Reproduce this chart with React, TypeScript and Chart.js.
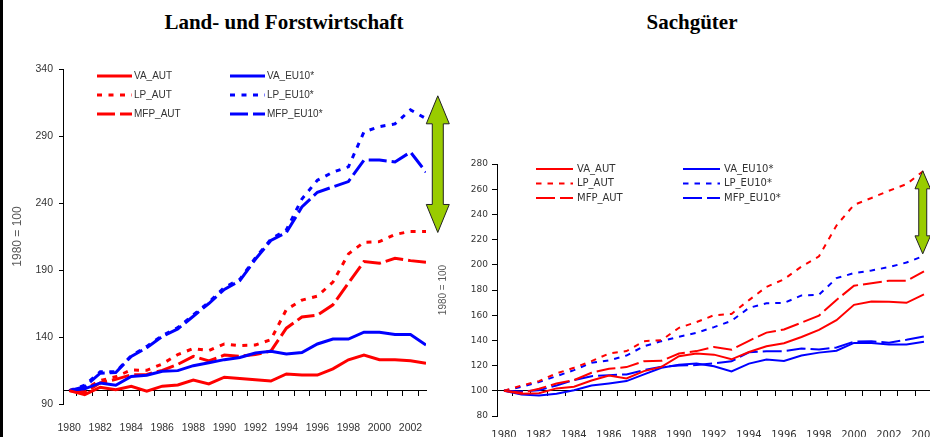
import React, { useEffect, useRef } from 'react';
import { Chart, registerables } from 'chart.js';

Chart.register(...registerables);

// ---------------- DATA ----------------
const yearsLand = [1980, 1981, 1982, 1983, 1984, 1985, 1986, 1987, 1988, 1989, 1990, 1991, 1992, 1993, 1994, 1995, 1996, 1997, 1998, 1999, 2000, 2001, 2002, 2003];
const yearsMan = [1980, 1981, 1982, 1983, 1984, 1985, 1986, 1987, 1988, 1989, 1990, 1991, 1992, 1993, 1994, 1995, 1996, 1997, 1998, 1999, 2000, 2001, 2002, 2003, 2004];

const tickYearsLand = [1980, 1982, 1984, 1986, 1988, 1990, 1992, 1994, 1996, 1998, 2000, 2002];
const tickYearsMan = [1980, 1982, 1984, 1986, 1988, 1990, 1992, 1994, 1996, 1998, 2000, 2002, 2004];

const yTicksLand = [90, 140, 190, 240, 290, 340];
const yTicksMan = [80, 100, 120, 140, 160, 180, 200, 220, 240, 260, 280];

const seriesNames = ['VA_AUT', 'VA_EU10*', 'LP_AUT', 'LP_EU10*', 'MFP_AUT', 'MFP_EU10*'];

// Land- und Forstwirtschaft (1980 = 100)
const landVA_AUT = [100, 97, 102.5, 100.7, 103.2, 99.6, 103.3, 104.2, 107.8, 105, 110, 109, 108.1, 107.1, 112.4, 111.6, 111.6, 116.2, 123, 126.6, 123, 123, 122.2, 120.4];
const landVA_EU = [100, 101.3, 105.7, 104, 110.6, 111.4, 114.4, 114.9, 118.6, 120.8, 123.1, 124.7, 128.1, 129.3, 127.4, 128.4, 134.8, 138.5, 138.5, 143.6, 143.6, 141.8, 141.8, 134];
const landLP_AUT = [100, 101, 107.5, 110.3, 115.4, 115.1, 119.9, 126.9, 131.4, 129.8, 134.8, 133.6, 134, 138, 160.5, 167.5, 170.5, 181, 202, 210.7, 211.2, 216.5, 218.8, 218.8];
const landLP_EU = [100, 104, 114, 114, 126, 133, 141, 147, 156.5, 166, 177, 183, 199, 213, 220, 243, 257, 263, 267, 293, 297, 299, 309.5, 303];
const landMFP_AUT = [100, 98.5, 105.8, 108.4, 111.8, 112.1, 115.1, 119.6, 125.6, 122.1, 126.5, 125.6, 126.9, 129.5, 146.6, 154.9, 156.3, 164, 180.2, 196.3, 195, 198.7, 197, 195.8];
const landMFP_EU = [100, 103, 113, 113.5, 125.5, 132, 140.5, 146, 155.5, 165, 175.5, 182, 198, 212, 218, 237, 248, 252, 256, 272, 272, 270.6, 278, 263];

// Sachgüter (1980 = 100)
const manVA_AUT = [100, 97.6, 98.1, 101.9, 103.2, 108.2, 112.2, 109.8, 115.6, 119, 127.5, 129.6, 128.7, 125, 130.8, 135.3, 137.7, 142.7, 148.3, 156, 168.2, 170.8, 170.6, 169.8, 176.6];
const manVA_EU = [100, 97.1, 96.3, 97.6, 100.5, 104.2, 105.8, 107.7, 113, 118.3, 120.6, 121.7, 119.5, 115.3, 121.6, 124.8, 123.7, 128, 130.3, 131.8, 138, 138, 136.8, 136.8, 138.9];
const manLP_AUT = [100, 104.2, 107.7, 113.8, 118.3, 123.5, 129.6, 131.5, 139.4, 140.2, 150, 154.5, 160, 161, 172, 182.5, 188.5, 198.6, 206.7, 231.2, 247.6, 253, 258.8, 264, 274.8];
const manLP_EU = [100, 103.2, 106.9, 111.6, 116.4, 122.2, 124.1, 128, 135.4, 139.4, 142.9, 146, 150.5, 155.5, 165.8, 169.5, 169.7, 175.7, 176.2, 189.4, 193.4, 195.5, 198.2, 201.8, 207.1];
const manMFP_AUT = [100, 98.4, 101.6, 105.8, 108.5, 114.3, 117.5, 118.8, 123.5, 123.8, 129.6, 131.5, 134.8, 132.6, 139.7, 146.2, 148.7, 154.1, 159.7, 172.1, 183.4, 185.4, 187.3, 187.3, 194.7];
const manMFP_EU = [100, 99.5, 100.5, 104.2, 108.5, 111.6, 112.4, 113, 116.4, 119, 120.1, 120.4, 121.8, 123.4, 130.6, 131.4, 131.5, 133.5, 132.7, 134.4, 139, 139.3, 138.2, 140.5, 143.2];

// gap arrows (year position, lower and upper value)
const gapLand = { year: 2003.76, low: 218, high: 320 };
const gapMan = { year: 2003.93, low: 208.7, high: 274.6 };

// ---------------- STYLE ----------------
const NARROW = '"Liberation Sans", Arial, sans-serif';
const WIDE = '"DejaVu Sans", Verdana, sans-serif';
const SERIES_COLORS = ['#FF0000', '#0000FF', '#FF0000', '#0000FF', '#FF0000', '#0000FF'];

const panelLegend = {
  id: 'panelLegend',
  afterDatasetsDraw(chart: any, _args: any, opts: any) {
    const { ctx, chartArea } = chart;
    ctx.save();
    ctx.font = opts.font;
    ctx.fillStyle = opts.color;
    ctx.textBaseline = 'middle';
    ctx.textAlign = 'left';
    chart.data.datasets.forEach((d: any, i: number) => {
      const col = i % 2;
      const row = Math.floor(i / 2);
      const x = chartArea.left + opts.x + col * opts.colGap;
      const y = chartArea.top + opts.y + row * opts.rowGap;
      ctx.beginPath();
      ctx.setLineDash(d.borderDash || []);
      ctx.lineWidth = d.borderWidth;
      ctx.strokeStyle = d.borderColor;
      ctx.moveTo(x, y);
      ctx.lineTo(x + opts.lineLen, y);
      ctx.stroke();
      ctx.setLineDash([]);
      ctx.fillText(d.label, x + opts.lineLen + opts.textGap, y);
    });
    ctx.restore();
  },
};

const gapArrow = {
  id: 'gapArrow',
  afterDatasetsDraw(chart: any, _args: any, opts: any) {
    const { ctx } = chart;
    const xs = chart.scales.x;
    const ys = chart.scales.y;
    const cx = xs.getPixelForValue(opts.year);
    const yTop = ys.getPixelForValue(opts.high);
    const yBot = ys.getPixelForValue(opts.low);
    const hw = opts.headWidth / 2;
    const sw = opts.shaftWidth / 2;
    const hl = opts.headLength;
    ctx.save();
    ctx.beginPath();
    ctx.moveTo(cx, yTop);
    ctx.lineTo(cx + hw, yTop + hl);
    ctx.lineTo(cx + sw, yTop + hl);
    ctx.lineTo(cx + sw, yBot - hl);
    ctx.lineTo(cx + hw, yBot - hl);
    ctx.lineTo(cx, yBot);
    ctx.lineTo(cx - hw, yBot - hl);
    ctx.lineTo(cx - sw, yBot - hl);
    ctx.lineTo(cx - sw, yTop + hl);
    ctx.lineTo(cx - hw, yTop + hl);
    ctx.closePath();
    ctx.fillStyle = '#99CC00';
    ctx.fill();
    ctx.lineWidth = 1;
    ctx.strokeStyle = '#222';
    ctx.setLineDash([]);
    ctx.stroke();
    ctx.restore();
  },
};

type PanelStyle = {
  width: number;
  lineWidth: number;
  dot: number[];
  dash: number[];
  xMin: number;
  xMax: number;
  padding: { top: number; right: number; left: number; bottom: number };
  yWidth: number;
  xHeight: number;
  yFont: any;
  xFont: any;
  xPad: number;
  yTickLen: number;
  yPad: number;
  titleFont: any;
  titlePad: number;
  legend: any;
  arrow: { headWidth: number; shaftWidth: number; headLength: number };
};

function buildConfig(
  years: number[],
  tickYears: number[],
  yTicks: number[],
  series: number[][],
  gap: { year: number; low: number; high: number },
  st: PanelStyle
): any {
  const dashes = [[], [], st.dot, st.dot, st.dash, st.dash];
  const datasets = series.map((data, i) => ({
    label: seriesNames[i],
    data,
    borderColor: SERIES_COLORS[i],
    backgroundColor: SERIES_COLORS[i],
    borderWidth: st.lineWidth,
    borderDash: dashes[i],
    pointRadius: 0,
    tension: 0,
    fill: false,
  }));
  return {
    type: 'line',
    data: { labels: years, datasets },
    plugins: [panelLegend, gapArrow],
    options: {
      animation: false,
      responsive: false,
      layout: { padding: st.padding },
      plugins: {
        legend: { display: false },
        tooltip: { enabled: false },
        title: { display: false },
        panelLegend: st.legend,
        gapArrow: { ...gap, ...st.arrow },
      },
      scales: {
        x: {
          type: 'linear',
          position: 'bottom',
          min: st.xMin,
          max: st.xMax,
          afterBuildTicks: (scale: any) => {
            scale.ticks = tickYears.map((v) => ({ value: v }));
          },
          afterFit: (scale: any) => {
            scale.height = st.xHeight;
          },
          grid: { display: false, drawTicks: false },
          border: { display: false },
          ticks: {
            autoSkip: false,
            maxRotation: 0,
            padding: st.xPad,
            color: '#333',
            font: st.xFont,
            callback: (v: any) => String(v),
          },
        },
        x2: {
          type: 'linear',
          position: { y: 100 },
          min: st.xMin,
          max: st.xMax,
          afterBuildTicks: (scale: any) => {
            scale.ticks = years.slice(0, -1).map((v) => ({ value: v + 0.5 }));
          },
          grid: { display: true, drawOnChartArea: false, drawTicks: true, tickLength: 5, color: '#000', lineWidth: 1 },
          border: { display: true, color: '#000', width: 1 },
          ticks: { display: false },
        },
        y: {
          type: 'linear',
          position: 'left',
          min: yTicks[0],
          max: yTicks[yTicks.length - 1],
          afterBuildTicks: (scale: any) => {
            scale.ticks = yTicks.map((v) => ({ value: v }));
          },
          afterFit: (scale: any) => {
            scale.width = st.yWidth;
          },
          grid: { display: true, drawOnChartArea: false, drawTicks: true, tickLength: st.yTickLen, color: '#000', lineWidth: 1 },
          border: { display: true, color: '#000', width: 1 },
          ticks: { padding: st.yPad, color: '#333', font: st.yFont },
          title: {
            display: true,
            text: '1980 = 100',
            color: '#595959',
            font: st.titleFont,
            padding: { top: st.titlePad, bottom: 0 },
          },
        },
      },
    },
  };
}

const landStyle: PanelStyle = {
  width: 460,
  lineWidth: 3,
  dot: [5, 6.5],
  dash: [18, 5],
  xMin: 1979.6,
  xMax: 2003,
  padding: { top: 69, right: 34, left: 0, bottom: 0 },
  yWidth: 63,
  xHeight: 33,
  yFont: { family: NARROW, size: 10.5 },
  xFont: { family: NARROW, size: 10.5 },
  xPad: 18,
  yTickLen: 4,
  yPad: 6,
  titleFont: { family: NARROW, size: 12 },
  titlePad: 10,
  legend: { x: 34, y: 7, colGap: 133, rowGap: 19, lineLen: 35, textGap: 2, font: `10px ${NARROW}`, color: '#333' },
  arrow: { headWidth: 23, shaftWidth: 11, headLength: 28 },
};

const manStyle: PanelStyle = {
  width: 520,
  lineWidth: 2,
  dot: [5.5, 6],
  dash: [19, 5],
  xMin: 1979.6,
  xMax: 2004.5,
  padding: { top: 164, right: 15, left: 0, bottom: 0 },
  yWidth: 67,
  xHeight: 21,
  yFont: { family: WIDE, size: 9 },
  xFont: { family: WIDE, size: 10 },
  xPad: 13,
  yTickLen: 5,
  yPad: 4,
  titleFont: { family: NARROW, size: 10 },
  titlePad: 7,
  legend: { x: 39, y: 5, colGap: 147, rowGap: 14.5, lineLen: 37, textGap: 4, font: `10px ${WIDE}`, color: '#333' },
  arrow: { headWidth: 15.5, shaftWidth: 8, headLength: 18 },
};

function Panel(props: { left: number; cfg: () => any; width: number }) {
  const ref = useRef<HTMLCanvasElement>(null);
  useEffect(() => {
    const chart = new Chart(ref.current as HTMLCanvasElement, props.cfg());
    return () => chart.destroy();
  }, []);
  return (
    <canvas
      ref={ref}
      width={props.width}
      height={437}
      style={{ position: 'absolute', left: props.left, top: 0, width: props.width, height: 437, display: 'block' }}
    />
  );
}

const titleStyle = (center: number): React.CSSProperties => ({
  position: 'absolute',
  left: center - 200,
  width: 400,
  top: 12,
  textAlign: 'center',
  fontFamily: '"Liberation Serif", "Times New Roman", serif',
  fontWeight: 'bold',
  fontSize: 21,
  lineHeight: '21px',
  whiteSpace: 'nowrap',
  color: '#000',
});

export default function App() {
  return (
    <div style={{ position: 'fixed', left: 0, top: 0, width: 930, height: 437, overflow: 'hidden', background: '#fff' }}>
      <div style={{ position: 'absolute', left: 0, top: 0, width: 3, height: 437, background: '#000' }} />
      <div style={titleStyle(284)}>Land- und Forstwirtschaft</div>
      <div style={titleStyle(692)}>Sachgüter</div>
      <Panel
        left={430}
        width={manStyle.width}
        cfg={() =>
          buildConfig(yearsMan, tickYearsMan, yTicksMan, [manVA_AUT, manVA_EU, manLP_AUT, manLP_EU, manMFP_AUT, manMFP_EU], gapMan, manStyle)
        }
      />
      <Panel
        left={0}
        width={landStyle.width}
        cfg={() =>
          buildConfig(yearsLand, tickYearsLand, yTicksLand, [landVA_AUT, landVA_EU, landLP_AUT, landLP_EU, landMFP_AUT, landMFP_EU], gapLand, landStyle)
        }
      />
    </div>
  );
}
